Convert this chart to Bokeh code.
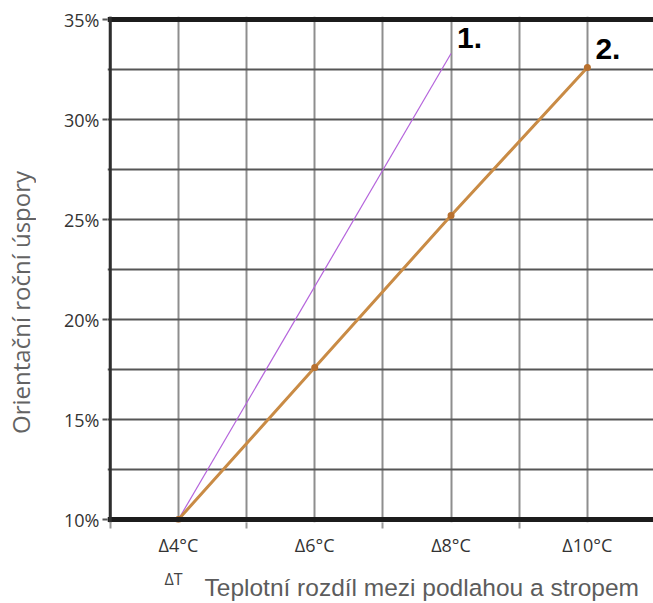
import math
from bokeh.plotting import figure
from bokeh.layouts import row, column
from bokeh.models import Range1d, FixedTicker, Span, Label
from bokeh.core.properties import value
from bokeh.embed import file_html
from bokeh.resources import INLINE

# data
x_ticks = [4, 6, 8, 10]
x_tick_labels = ["Δ4°C", "Δ6°C", "Δ8°C", "Δ10°C"]
y_ticks = [10, 15, 20, 25, 30, 35]
y_tick_labels = ["10%", "15%", "20%", "25%", "30%", "35%"]
series1_x = [4, 8]
series1_y = [10, 33.3]
series2_x = [4, 6, 8, 10]
series2_y = [10, 17.6, 25.2, 32.6]
series_names = ["1.", "2."]
x_grid = [3, 4, 5, 6, 7, 8, 9, 10, 11]
x_minor = [3, 5, 7, 9, 11]
y_grid = [10, 12.5, 15, 17.5, 20, 22.5, 25, 27.5, 30, 32.5, 35]
x_title = "Teplotní rozdíl mezi podlahou a stropem"
y_title = "Orientační roční úspory"
dt_label = "ΔT"

TITLE_W = 36
MAIN_H = 568
TOTAL_W = 653
BOTTOM_H = 35

# ---- main chart ----
p = figure(width=TOTAL_W - TITLE_W, height=MAIN_H, output_backend="svg", toolbar_location=None,
           x_range=Range1d(2.96, 10.97), y_range=Range1d(9.85, 35.15),
           min_border_left=107 - TITLE_W, min_border_right=0, min_border_top=16,
           min_border_bottom=MAIN_H - 522)
p.outline_line_color = None
p.background_fill_color = "white"
p.border_fill_color = "white"

p.xgrid.ticker = FixedTicker(ticks=x_grid)
p.xgrid.grid_line_color = "#8e8e8e"
p.xgrid.grid_line_width = 2
p.ygrid.ticker = FixedTicker(ticks=y_grid)
p.ygrid.grid_line_color = "#565656"
p.ygrid.grid_line_width = 2

# borders
p.add_layout(Span(location=y_ticks[0], dimension="width", line_color="#1c1c1c", line_width=5))
p.add_layout(Span(location=y_ticks[-1], dimension="width", line_color="#1c1c1c", line_width=5))
p.add_layout(Span(location=x_grid[0], dimension="height", line_color="#2e2e2e", line_width=3))

# x axis
p.xaxis.ticker = FixedTicker(ticks=x_ticks, minor_ticks=x_minor)
p.xaxis.major_label_overrides = {t: l for t, l in zip(x_ticks, x_tick_labels)}
p.xaxis.axis_line_color = None
p.xaxis.major_tick_line_color = None
p.xaxis.minor_tick_line_color = "#9a9a9a"
p.xaxis.minor_tick_line_width = 2
p.xaxis.minor_tick_in = 0
p.xaxis.minor_tick_out = 6
p.xaxis.major_label_standoff = 4
p.xaxis.major_label_text_font = "Open Sans"
p.xaxis.major_label_text_font_size = "18px"
p.xaxis.major_label_text_color = "#333333"

# y axis
p.yaxis.ticker = FixedTicker(ticks=y_ticks, minor_ticks=[])
p.yaxis.major_label_overrides = {t: l for t, l in zip(y_ticks, y_tick_labels)}
p.yaxis.axis_line_color = None
p.yaxis.major_tick_line_color = "#555555"
p.yaxis.major_tick_line_width = 2
p.yaxis.major_tick_in = 0
p.yaxis.major_tick_out = 5
p.yaxis.major_label_standoff = 3
p.yaxis.major_label_text_font = "Open Sans"
p.yaxis.major_label_text_font_size = "18px"
p.yaxis.major_label_text_color = "#333333"

# series
p.line(series1_x, series1_y, line_color="#b564dc", line_width=1.2)
p.line(series2_x, series2_y, line_color="#c98b45", line_width=3)
p.scatter(series2_x, series2_y, size=7, fill_color="#b8702e", line_color=None)

p.text(x=[series1_x[-1]], y=[series1_y[-1]], text=[series_names[0]], x_offset=6, y_offset=-16,
       text_font=value("Liberation Sans"), text_font_style="bold", text_font_size="30px",
       text_color="black", text_baseline="alphabetic", text_align="left")
p.text(x=[series2_x[-1]], y=[series2_y[-1]], text=[series_names[1]], x_offset=8, y_offset=-19,
       text_font=value("Liberation Sans"), text_font_style="bold", text_font_size="30px",
       text_color="black", text_baseline="alphabetic", text_align="left")

# ---- strip holding the vertical axis title ----
yt = figure(width=TITLE_W, height=MAIN_H, output_backend="svg", toolbar_location=None,
            x_range=Range1d(0, TITLE_W), y_range=Range1d(0, MAIN_H),
            x_axis_type=None, y_axis_type=None,
            min_border_left=0, min_border_right=0, min_border_top=0, min_border_bottom=0)
yt.outline_line_color = None
yt.grid.visible = False
yt.add_layout(Label(x=20, y=247, text=y_title, angle=math.pi / 2,
                    text_align="center", text_baseline="middle",
                    text_font="Open Sans", text_font_size="24px", text_color="#636363"))

# ---- strip holding the horizontal axis title ----
xt = figure(width=TOTAL_W, height=BOTTOM_H, output_backend="svg", toolbar_location=None,
            x_range=Range1d(0, TOTAL_W), y_range=Range1d(0, BOTTOM_H),
            x_axis_type=None, y_axis_type=None,
            min_border_left=0, min_border_right=0, min_border_top=0, min_border_bottom=0)
xt.outline_line_color = None
xt.grid.visible = False
xt.add_layout(Label(x=204, y=16, text=x_title, text_align="left", text_baseline="middle",
                    text_font="Liberation Sans", text_font_size="24.5px", text_color="#5c5c5c"))
xt.add_layout(Label(x=173, y=25, text=dt_label, text_align="center", text_baseline="middle",
                    text_font="Open Sans", text_font_size="16px", text_color="#444444"))

layout = column(row(yt, p, spacing=0), xt, spacing=0)

open("out.html", "w").write(file_html(layout, INLINE))
